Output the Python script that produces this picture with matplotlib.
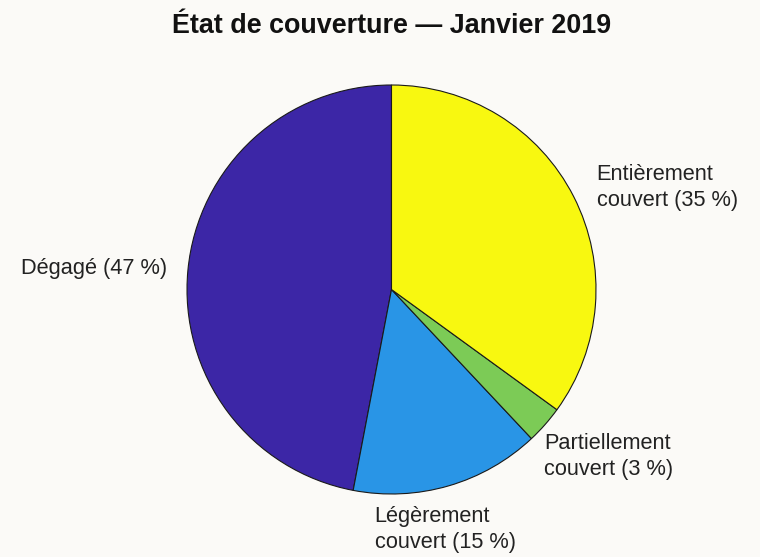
import numpy as np
import matplotlib
matplotlib.use('Agg')
import matplotlib.pyplot as plt

plt.rcParams['font.family'] = ['Liberation Sans', 'DejaVu Sans']

# data, counterclockwise from the top
labels = ['Dégagé (47 %)', 'Légèrement\ncouvert (15 %)',
          'Partiellement\ncouvert (3 %)', 'Entièrement\ncouvert (35 %)']
shares = [47, 15, 3, 35]
colors = ['#3c26a6', '#2995e6', '#7ccb56', '#f8f810']

# label placement (radius factor, angle nudge in degrees, alignment)
label_r = [1.10, 1.09, 1.024, 1.12]
label_dang = [0, -2.3, -1.7, -0.6]
label_ha = ['right', 'center', 'left', 'left']
label_va = ['center', 'top', 'top', 'center']

bg = '#fbfaf7'
fig = plt.figure(figsize=(7.6, 5.57), dpi=100, facecolor=bg)

# pie centre at (391.5, 289.5) px, radius 204.5 px
R = 204.5
lim = 1.2
side = 2 * lim * R
ax = fig.add_axes([(391.5 - side / 2) / 760, (557 - 289.5 - side / 2) / 557,
                   side / 760, side / 557])
ax.set_facecolor(bg)

wedges, _ = ax.pie(shares, colors=colors, startangle=90, counterclock=True,
                   wedgeprops=dict(edgecolor='#1a1a1a', linewidth=0.8))
ax.set_xlim(-lim, lim)
ax.set_ylim(-lim, lim)
ax.set_aspect('equal')
ax.axis('off')

cum = np.cumsum([0] + shares[:-1])
for i, lab in enumerate(labels):
    mid = np.deg2rad(90 + (cum[i] + shares[i] / 2) * 3.6 + label_dang[i])
    x = label_r[i] * np.cos(mid)
    y = label_r[i] * np.sin(mid)
    ax.text(x, y, lab, ha=label_ha[i], va=label_va[i], multialignment='left',
            fontsize=15.7, color='#222222', linespacing=1.33, clip_on=False)

fig.text(391.5 / 760, 1 - 33 / 557, 'État de couverture — Janvier 2019',
         ha='center', va='baseline', fontsize=19.4, fontweight='bold', color='#111111')

fig.savefig('out.png', dpi=100, facecolor=bg)
